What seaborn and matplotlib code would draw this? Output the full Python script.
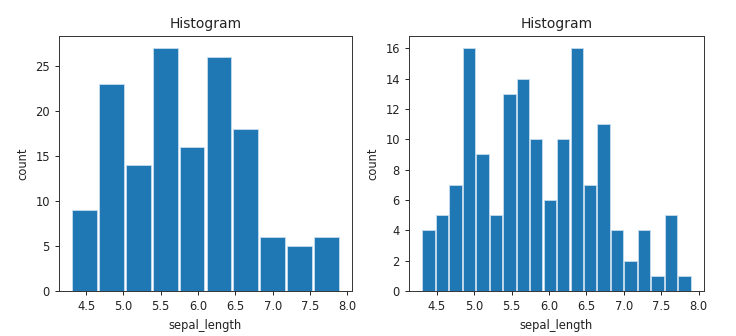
import numpy as np
import pandas as pd
import matplotlib
matplotlib.use("Agg")
import matplotlib.pyplot as plt
import seaborn as sns

# Bin edges and counts of sepal_length (10 and 20 bins)
edges_10 = [4.3, 4.66, 5.02, 5.38, 5.74, 6.1, 6.46, 6.82, 7.18, 7.54, 7.9]
counts_10 = [9, 23, 14, 27, 16, 26, 18, 6, 5, 6]

edges_20 = [4.3, 4.48, 4.66, 4.84, 5.02, 5.2, 5.38, 5.56, 5.74, 5.92, 6.1,
            6.28, 6.46, 6.64, 6.82, 7.0, 7.18, 7.36, 7.54, 7.72, 7.9]
counts_20 = [4, 5, 7, 16, 9, 5, 13, 14, 10, 6, 10, 16, 7, 11, 4, 2, 4, 1, 5, 1]


def binned_frame(edges, counts):
    e = np.asarray(edges)
    return pd.DataFrame({"sepal_length": (e[:-1] + e[1:]) / 2,
                         "count": counts})


plt.rcParams.update({
    "font.size": 8.3,
    "axes.linewidth": 0.7,
    "xtick.major.width": 0.7,
    "ytick.major.width": 0.7,
    "xtick.major.size": 3,
    "ytick.major.size": 3,
    "text.color": "#222222",
    "xtick.color": "#222222",
    "ytick.color": "#222222",
    "axes.labelcolor": "#222222",
    "axes.edgecolor": "#333333",
})

fig, axes = plt.subplots(1, 2, figsize=(7.36, 3.36), dpi=100)

for ax, edges, counts in [(axes[0], edges_10, counts_10),
                          (axes[1], edges_20, counts_20)]:
    df = binned_frame(edges, counts)
    sns.histplot(data=df, x="sepal_length", weights="count", bins=edges,
                 shrink=0.92, color="#1f77b4", alpha=1,
                 edgecolor="#c8dcee", linewidth=0.6, ax=ax)
    ax.set_title("Histogram", fontsize=10)
    ax.set_xlabel("sepal_length")
    ax.set_ylabel("count")
    ax.set_xticks([4.5, 5.0, 5.5, 6.0, 6.5, 7.0, 7.5, 8.0])

axes[0].set_position([59 / 736, 1 - 291 / 336, (352 - 59) / 736, (291 - 36) / 336])
axes[1].set_position([409 / 736, 1 - 291 / 336, (704 - 409) / 736, (291 - 36) / 336])

fig.savefig("out.png", dpi=100)
